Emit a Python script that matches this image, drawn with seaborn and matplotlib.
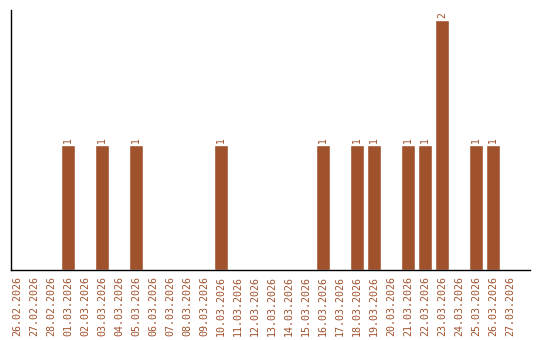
import matplotlib
matplotlib.use("Agg")
import matplotlib.pyplot as plt
import seaborn as sns
import pandas as pd

dates = ["26.02.2026","27.02.2026","28.02.2026","01.03.2026","02.03.2026","03.03.2026",
         "04.03.2026","05.03.2026","06.03.2026","07.03.2026","08.03.2026","09.03.2026",
         "10.03.2026","11.03.2026","12.03.2026","13.03.2026","14.03.2026","15.03.2026",
         "16.03.2026","17.03.2026","18.03.2026","19.03.2026","20.03.2026","21.03.2026",
         "22.03.2026","23.03.2026","24.03.2026","25.03.2026","26.03.2026","27.03.2026"]
counts = [0,0,0,1,0,1,0,1,0,0,0,0,1,0,0,0,0,0,1,0,1,1,0,1,1,2,0,1,1,0]

color = "#A0522D"
sns.set_theme(style="white")
plt.rcParams['font.family'] = ['DejaVu Sans Mono', 'DejaVu Sans']

df = pd.DataFrame({"date": dates, "count": counts})
fig = plt.figure(figsize=(5.4, 3.4), dpi=100)
ax = fig.add_axes([11/540, 70/340, 519/540, 260/340])
sns.barplot(data=df, x="date", y="count", color=color, saturation=1, width=0.82, ax=ax)
ax.set_ylim(0, 2.08)
ax.set_xlim(-0.353, 30.18)
for i, v in enumerate(counts):
    if v > 0:
        ax.text(i, v + 0.015, str(v), rotation=90, ha="center", va="bottom",
                color=color, fontsize=7)
ax.set_xlabel("")
ax.set_ylabel("")
ax.set_yticks([])
ax.tick_params(axis="x", rotation=90, labelsize=7.2, labelcolor=color, length=0, pad=4)
for s in ["top", "right"]:
    ax.spines[s].set_visible(False)
for s in ["left", "bottom"]:
    ax.spines[s].set_color("black")
    ax.spines[s].set_linewidth(1)
fig.savefig("out.png", dpi=100)
